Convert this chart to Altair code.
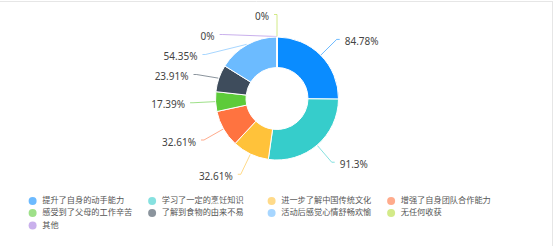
import altair as alt
import pandas as pd

categories = ["提升了自身的动手能力", "学习了一定的烹饪知识", "进一步了解中国传统文化", "增强了自身团队合作能力",
              "感受到了父母的工作辛苦", "了解到食物的由来不易", "活动后感觉心情舒畅欢愉", "无任何收获", "其他"]
values = [84.78, 91.3, 32.61, 32.61, 17.39, 23.91, 54.35, 0, 0]
labels = ["84.78%", "91.3%", "32.61%", "32.61%", "17.39%", "23.91%", "54.35%", "0%", "0%"]
colors = ["#0A8CFF", "#36CDCB", "#FFC23A", "#FF7340", "#5DCB3A", "#3E4C5C", "#6CBBFF", "#B5DC3A", "#A57CE0"]

df = pd.DataFrame({"idx": list(range(len(categories))), "cat": categories, "value": values,
                   "label": labels, "col": colors})

CX, CY = 277, 98.5
R_OUT, R_IN = 61.5, 31
R1, R2 = 62, 84
H, L2, GAP = 20, 3, 5

color_scale = alt.Scale(domain=categories, range=colors)
legend = alt.Legend(
    title=None, orient="none", legendX=28.5, legendY=196.5, direction="horizontal", columns=4, gridAlign="all",
    columnPadding=15.5, rowPadding=2.5, symbolType="circle", symbolSize=64, symbolStrokeWidth=0,
    symbolOpacity=1, labelFont="Noto Sans CJK SC", labelFontSize=8.2, labelColor="#555555", labelOffset=5.5,
    labelLimit=300, padding=0)

base = alt.Chart(df)

arcs = base.mark_arc(outerRadius=R_OUT, innerRadius=R_IN, stroke="white", strokeWidth=1, opacity=1).encode(
    theta=alt.Theta("value:Q", stack=True),
    order=alt.Order("idx:Q"),
    color=alt.Color("cat:N", scale=color_scale, legend=legend),
    x=alt.value(CX), y=alt.value(CY),
)

geo = base.transform_joinaggregate(
    total="sum(value)"
).transform_window(
    cum="sum(value)", sort=[alt.SortField("idx")], frame=[None, 0]
).transform_calculate(
    mid="(datum.cum - datum.value / 2) / datum.total * 2 * PI",
    s="sin(datum.mid)",
    c="cos(datum.mid)",
    dir="datum.s > 1e-6 ? 1 : -1",
    p1x=f"{CX} + {R1} * datum.s",
    p1y=f"{CY} - {R1} * datum.c",
    ny=f"{CY} - {R2} * datum.c",
).transform_window(
    rank="row_number()", groupby=["dir"], sort=[alt.SortField("ny"), alt.SortField("idx")]
).transform_calculate(
    d=f"datum.ny - (datum.rank - 1) * {H}"
).transform_window(
    cm="max(d)", groupby=["dir"], sort=[alt.SortField("ny"), alt.SortField("idx")], frame=[None, 0]
).transform_calculate(
    ay=f"(datum.rank - 1) * {H} + datum.cm",
    ax=f"{CX} + datum.dir * sqrt(max({R2} * {R2} - (datum.ay - {CY}) * (datum.ay - {CY}), 0))",
    p3x=f"datum.ax + datum.dir * {L2}",
    tx=f"datum.p3x + datum.dir * {GAP}",
)

line1 = geo.mark_rule(strokeWidth=1, opacity=0.6).encode(
    x=alt.X("p1x:Q", scale=None, axis=None), y=alt.Y("p1y:Q", scale=None, axis=None),
    x2="ax:Q", y2="ay:Q",
    color=alt.Color("col:N", scale=None),
)
line2 = geo.mark_rule(strokeWidth=1, opacity=0.6).encode(
    x=alt.X("ax:Q", scale=None, axis=None), y=alt.Y("ay:Q", scale=None, axis=None),
    x2="p3x:Q",
    color=alt.Color("col:N", scale=None),
)

text_r = geo.transform_filter("datum.dir > 0").mark_text(
    align="left", baseline="middle", dy=2.5, font="Noto Sans", fontSize=10, color="#444444"
).encode(
    x=alt.X("tx:Q", scale=None, axis=None), y=alt.Y("ay:Q", scale=None, axis=None), text="label:N"
)
text_l = geo.transform_filter("datum.dir < 0").mark_text(
    align="right", baseline="middle", dy=2.5, font="Noto Sans", fontSize=10, color="#444444"
).encode(
    x=alt.X("tx:Q", scale=None, axis=None), y=alt.Y("ay:Q", scale=None, axis=None), text="label:N"
)

one = alt.Chart(pd.DataFrame({"a": [0]}))
border_top = one.mark_rule(color="#e6e6e6", strokeWidth=1).encode(
    x=alt.value(0), x2=alt.value(553), y=alt.value(1.5))
border_right = one.mark_rule(color="#e6e6e6", strokeWidth=1).encode(
    x=alt.value(552.5), y=alt.value(1), y2=alt.value(246))

chart = alt.layer(border_top, border_right, line1, line2, arcs, text_r, text_l).properties(
    width=554, height=246, padding=0, autosize=alt.AutoSizeParams(type="none")
).configure_view(stroke=None)

chart.save("out.html", embed_options={"renderer": "svg", "actions": False})
